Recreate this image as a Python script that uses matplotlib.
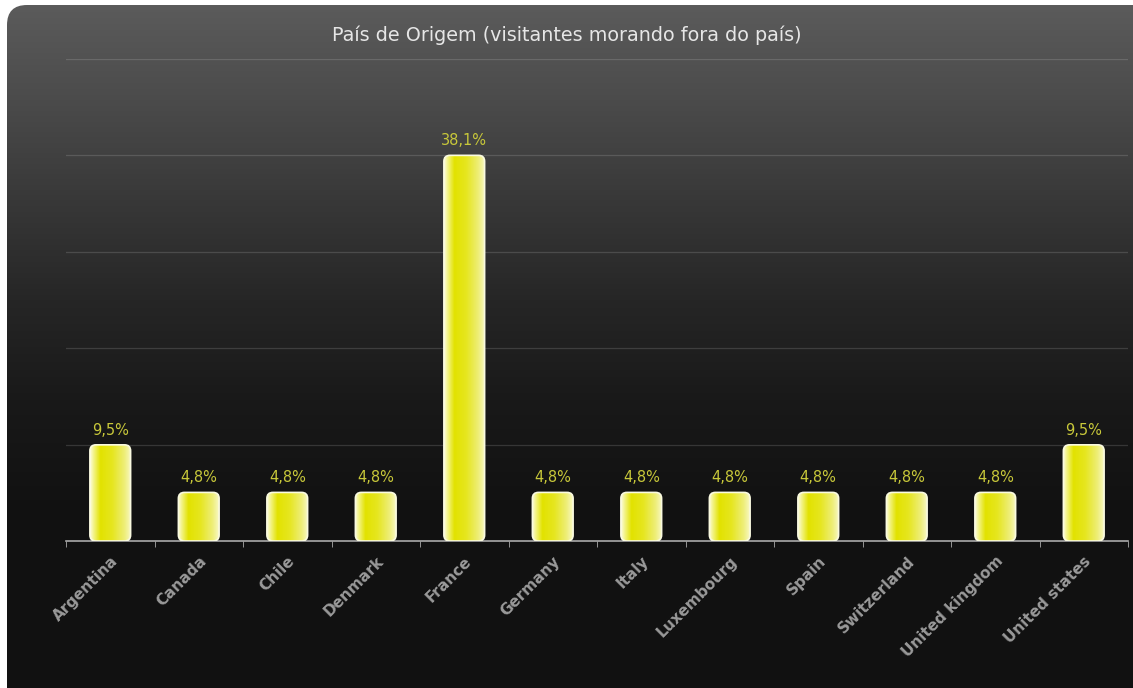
import numpy as np
import matplotlib.pyplot as plt
from matplotlib.patches import FancyBboxPatch
from matplotlib.colors import LinearSegmentedColormap

countries = ['Argentina', 'Canada', 'Chile', 'Denmark', 'France', 'Germany', 'Italy',
             'Luxembourg', 'Spain', 'Switzerland', 'United kingdom', 'United states']
shares = [9.5, 4.8, 4.8, 4.8, 38.1, 4.8, 4.8, 4.8, 4.8, 4.8, 4.8, 9.5]
labels = ['9,5%', '4,8%', '4,8%', '4,8%', '38,1%', '4,8%', '4,8%', '4,8%', '4,8%', '4,8%', '4,8%', '9,5%']
grid_vals = [9.52, 19.05, 28.57, 38.1, 47.62]
title = 'País de Origem (visitantes morando fora do país)'

W, H = 1133, 688
fig = plt.figure(figsize=(W / 100, H / 100), dpi=100)
fig.patch.set_facecolor('white')

# dark rounded panel with vertical gradient
bg = fig.add_axes([0, 0, 1, 1], zorder=-5)
bg.set_xlim(0, W); bg.set_ylim(H, 0); bg.axis('off')
rows = np.arange(H)
stops_y = [0, 100, 200, 300, 400, 500, H]
stops_c = [0x5c, 0x4b, 0x38, 0x26, 0x19, 0x12, 0x11]
g = np.interp(rows, stops_y, stops_c) / 255.0
img = np.dstack([g, g, g])[:, None, :].reshape(H, 1, 3)
panel = FancyBboxPatch((7, 5), W - 7 + 20, H - 5 + 20, boxstyle='round,pad=0,rounding_size=20',
                       facecolor='none', edgecolor='none', transform=bg.transData)
bg.add_patch(panel)
im = bg.imshow(img, extent=(0, W, H, 0), aspect='auto', interpolation='bilinear')
im.set_clip_path(panel)

fig.text(0.5, 1 - 35 / H, title, ha='center', va='center', color='#e6e6e6', fontsize=13.8)

ax = fig.add_axes([66 / W, (H - 541) / H, (1128 - 66) / W, (541 - 59) / H])
ax.set_facecolor('none')

x = np.arange(len(countries))
bars = ax.bar(x, shares, width=0.46, color='none', edgecolor='none')

bar_cmap = LinearSegmentedColormap.from_list('bar', [
    (0.0, '#fbfbd8'), (0.1, '#f2f27a'), (0.25, '#e2e200'), (0.55, '#e6e620'),
    (0.85, '#eeee78'), (1.0, '#f8f8c0')])
grad = np.linspace(0, 1, 64)[None, :]

px_x = (1128 - 66) / len(countries)
px_y = (541 - 59) / grid_vals[-1]
rs = 6 / px_x
asp = px_x / px_y

for b, lab in zip(bars, labels):
    x0, w, h = b.get_x(), b.get_width(), b.get_height()
    p = FancyBboxPatch((x0, 0), w, h, boxstyle='round,pad=0,rounding_size=%f' % rs,
                       mutation_aspect=asp, facecolor='none', edgecolor='#fafae0',
                       linewidth=1.2, zorder=4)
    ax.add_patch(p)
    gi = ax.imshow(grad, extent=(x0, x0 + w, 0, h), aspect='auto', cmap=bar_cmap, zorder=3)
    gi.set_clip_path(p)
    ax.text(x0 + w / 2, h + 0.7, lab, ha='center', va='bottom', color='#c8c83a', fontsize=10.5)

ax.set_xlim(-0.5, len(countries) - 0.5)
ax.set_ylim(0, grid_vals[-1])
ax.set_aspect('auto')

for gv in grid_vals:
    ax.axhline(gv, color='white', alpha=0.14, linewidth=0.9, zorder=1)

for s in ['top', 'right', 'left']:
    ax.spines[s].set_visible(False)
ax.spines['bottom'].set_color('#aaaaaa')
ax.spines['bottom'].set_linewidth(1.2)
ax.set_yticks([])

ax.set_xticks(np.arange(len(countries) + 1) - 0.5, minor=True)
ax.tick_params(axis='x', which='minor', length=4, color='#aaaaaa', direction='out')
ax.set_xticks(x)
ax.set_xticklabels(countries, rotation=45, ha='right', rotation_mode='anchor',
                   color='#9a9a9a', fontsize=11, fontweight='bold')
ax.tick_params(axis='x', which='major', length=0, pad=9)

fig.savefig('out.png', dpi=100)
